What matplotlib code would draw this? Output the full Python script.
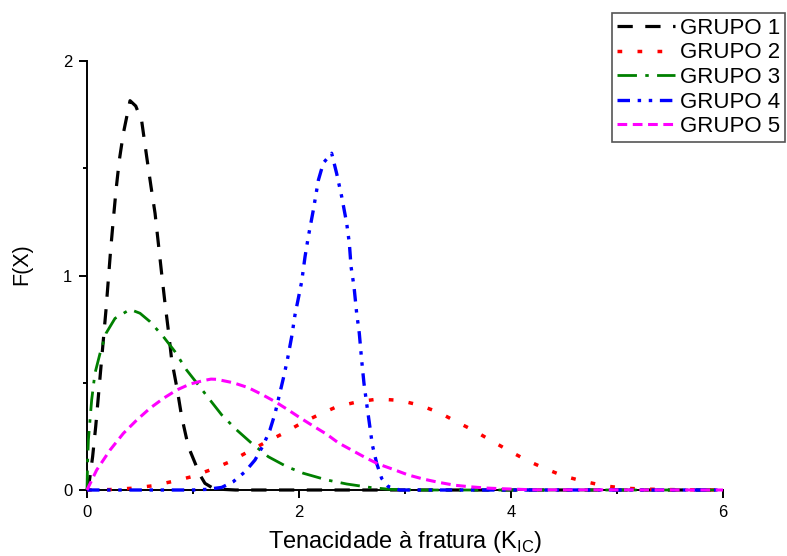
import matplotlib
matplotlib.use("Agg")
import matplotlib.pyplot as plt

plt.rcParams['font.family'] = ['Liberation Sans', 'DejaVu Sans']
plt.rcParams['mathtext.fontset'] = 'custom'
plt.rcParams['mathtext.rm'] = 'Liberation Sans'
plt.rcParams['lines.scale_dashes'] = False

# ---- data ----
labels = ["GRUPO 1", "GRUPO 2", "GRUPO 3", "GRUPO 4", "GRUPO 5"]

g1_x = [0, 0.022, 0.053, 0.082, 0.107, 0.129, 0.154, 0.179, 0.201, 0.223, 0.248, 0.274,
        0.305, 0.343, 0.406, 0.46, 0.516, 0.563, 0.604, 0.642, 0.673, 0.704, 0.736, 0.767,
        0.799, 0.852, 0.893, 0.956, 1.066, 1.113, 1.2, 1.4, 6]
g1_y = [0, 0.04, 0.155, 0.295, 0.435, 0.559, 0.699, 0.839, 0.979, 1.119, 1.259, 1.399,
        1.538, 1.663, 1.815, 1.79, 1.72, 1.554, 1.414, 1.290, 1.150, 1.010, 0.870, 0.746,
        0.606, 0.466, 0.342, 0.202, 0.070, 0.031, 0.005, 0, 0]

g2_x = [0, 0.217, 0.42, 0.61, 0.80, 0.987, 1.176, 1.349, 1.522, 1.679, 1.852, 2.009, 2.182,
        2.355, 2.559, 2.748, 2.947, 3.135, 3.318, 3.487, 3.657, 3.821, 3.985, 4.154, 4.33,
        4.503, 4.698, 4.887, 5.08, 5.28, 5.48, 5.68, 6]
g2_y = [0, 0.002, 0.008, 0.019, 0.039, 0.062, 0.096, 0.132, 0.179, 0.221, 0.264, 0.308, 0.350,
        0.388, 0.412, 0.424, 0.418, 0.396, 0.362, 0.318, 0.275, 0.228, 0.182, 0.137, 0.098,
        0.064, 0.039, 0.019, 0.008, 0.004, 0.002, 0.001, 0]

g3_x = [0, 0.005, 0.013, 0.044, 0.075, 0.123, 0.179, 0.264, 0.406, 0.5, 0.594, 0.720, 0.830,
        0.940, 1.050, 1.160, 1.271, 1.412, 1.553, 1.711, 1.884, 2.041, 2.261, 2.45, 2.67,
        2.86, 3.1, 6]
g3_y = [0, 0.12, 0.233, 0.420, 0.544, 0.637, 0.730, 0.800, 0.842, 0.824, 0.785, 0.715, 0.645,
        0.559, 0.490, 0.420, 0.350, 0.280, 0.218, 0.155, 0.109, 0.078, 0.047, 0.028, 0.012,
        0.003, 0, 0]

g4_x = [0, 1.0, 1.129, 1.271, 1.380, 1.491, 1.585, 1.664, 1.726, 1.774, 1.815, 1.852, 1.890,
        1.931, 1.962, 1.994, 2.025, 2.057, 2.088, 2.135, 2.183, 2.23, 2.308, 2.355, 2.403,
        2.450, 2.475, 2.491, 2.519, 2.544, 2.569, 2.591, 2.613, 2.638, 2.664, 2.692, 2.733,
        2.780, 2.842, 2.95, 6]
g4_y = [0, 0, 0.003, 0.012, 0.039, 0.085, 0.140, 0.210, 0.280, 0.357, 0.443, 0.520, 0.606,
        0.715, 0.816, 0.894, 0.971, 1.088, 1.181, 1.305, 1.445, 1.525, 1.570, 1.476, 1.367,
        1.243, 1.150, 1.041, 0.948, 0.824, 0.730, 0.606, 0.497, 0.404, 0.311, 0.210, 0.124,
        0.054, 0.016, 0, 0]

g5_x = [0, 0.091, 0.217, 0.343, 0.469, 0.594, 0.720, 0.846, 0.972, 1.097, 1.17, 1.223, 1.380,
        1.522, 1.648, 1.774, 1.899, 2.009, 2.135, 2.261, 2.371, 2.497, 2.623, 2.748, 2.89,
        3.031, 3.173, 3.314, 3.472, 3.613, 3.771, 3.91, 4.2, 6]
g5_y = [0, 0.093, 0.186, 0.264, 0.326, 0.381, 0.427, 0.466, 0.494, 0.510, 0.517, 0.516, 0.500,
        0.477, 0.446, 0.412, 0.373, 0.337, 0.298, 0.260, 0.220, 0.186, 0.152, 0.121, 0.096,
        0.070, 0.051, 0.036, 0.022, 0.015, 0.009, 0.006, 0.001, 0]

xs = [g1_x, g2_x, g3_x, g4_x, g5_x]
ys = [g1_y, g2_y, g3_y, g4_y, g5_y]
colors = ["black", "red", "green", "blue", "magenta"]
styles = [(0, (11, 9)),
          (0, (3.4, 11)),
          (0, (14, 6, 2.5, 6)),
          (0, (9, 5.5, 2.5, 5.5, 2.5, 5.5)),
          (0, (7, 4))]
widths = [2.3, 2.5, 2.0, 2.4, 2.2]

fig = plt.figure(figsize=(7.87, 5.56), dpi=100)
ax = fig.add_axes([87 / 787, 1 - 490 / 556, 636 / 787, 429 / 556])

for x, y, c, ls, lw, lab in zip(xs, ys, colors, styles, widths, labels):
    ax.plot(x, y, color=c, linestyle=ls, linewidth=lw, label=lab,
            clip_on=False, zorder=3)

ax.set_xlim(0, 6)
ax.set_ylim(0, 2)
ax.set_xticks([0, 2, 4, 6])
ax.set_xticks([1, 3, 5], minor=True)
ax.set_yticks([0, 1, 2])
ax.set_yticks([0.5, 1.5], minor=True)
ax.spines['top'].set_visible(False)
ax.spines['right'].set_visible(False)
for s in ('left', 'bottom'):
    ax.spines[s].set_linewidth(1.4)
ax.tick_params(which='major', direction='out', length=5.5, width=1.4,
               labelsize=12, pad=5, colors='black')
ax.tick_params(which='minor', direction='out', length=3, width=1.4)

ax.set_xlabel("Tenacidade à fratura (K$_\\mathregular{IC}$)", fontsize=17)
ax.set_ylabel("F(X)", fontsize=15.5)
ax.xaxis.set_label_coords(0.5, -0.091)
ax.yaxis.set_label_coords(-0.086, 0.527)

leg = ax.legend(loc='upper left', bbox_to_anchor=(612 / 787, 1 - 13 / 556),
                bbox_transform=fig.transFigure, borderaxespad=0,
                fontsize=16, frameon=True, fancybox=False, framealpha=1,
                borderpad=0.22, labelspacing=0.16, handlelength=2.6,
                handletextpad=0.25)
leg.get_frame().set_edgecolor('#555555')
leg.get_frame().set_linewidth(1.2)

fig.savefig("out.png", dpi=100)
